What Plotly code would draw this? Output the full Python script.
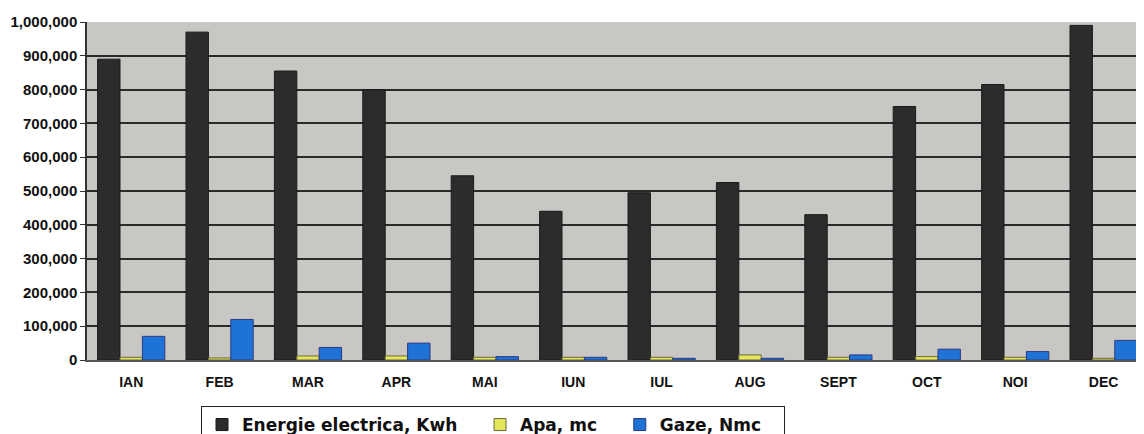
import plotly.graph_objects as go

months = ["IAN", "FEB", "MAR", "APR", "MAI", "IUN", "IUL", "AUG", "SEPT", "OCT", "NOI", "DEC"]
energie = [890000, 970000, 855000, 800000, 545000, 440000, 495000, 525000, 430000, 750000, 815000, 990000]
apa = [8000, 6000, 12000, 12000, 8000, 8000, 8000, 15000, 8000, 10000, 8000, 5000]
gaze = [70000, 120000, 37000, 50000, 10000, 8000, 5000, 5000, 15000, 32000, 25000, 58000]

tick_vals = [0, 100000, 200000, 300000, 400000, 500000, 600000, 700000, 800000, 900000, 1000000]
tick_text = ["0", "100,000", "200,000", "300,000", "400,000", "500,000",
             "600,000", "700,000", "800,000", "900,000", "1,000,000"]

PAD = "\u00a0" * 3
names = ["Energie electrica, Kwh" + PAD, "Apa, mc" + PAD, "Gaze, Nmc" + PAD]

fig = go.Figure()
fig.add_trace(go.Bar(name=names[0], x=months, y=energie,
                     marker=dict(color="#2c2c2c", line=dict(color="#1a1a1a", width=1))))
fig.add_trace(go.Bar(name=names[1], x=months, y=apa,
                     marker=dict(color="#e6e65c", line=dict(color="#6b6b3a", width=1))))
fig.add_trace(go.Bar(name=names[2], x=months, y=gaze,
                     marker=dict(color="#1f72d6", line=dict(color="#2a3a80", width=1))))

# page body has an 8px margin: figure origin sits at screen (8, 8)
OFF = 8
W, H = 1144 - OFF, 434 - OFF
ml, mr, mt = 87 - OFF, 0, 22 - OFF
mb = H - (360 - OFF)
pw = W - ml - mr
ph = H - mt - mb

FONT = "Liberation Sans, Arial, sans-serif"
LFONT = "DejaVu Sans, Liberation Sans, Arial, sans-serif"

fig.update_layout(
    width=W, height=H,
    margin=dict(l=ml, r=mr, t=mt, b=mb, pad=0, autoexpand=False),
    paper_bgcolor="white",
    plot_bgcolor="#c9c7c4",
    barmode="group",
    bargap=0.24,
    bargroupgap=0,
    font=dict(family=FONT, color="#111111"),
    showlegend=True,
    legend=dict(
        orientation="h",
        x=((201 - OFF) - ml) / pw, xanchor="left",
        y=-((406 - OFF) - (mt + ph)) / ph, yanchor="top",
        bordercolor="#222222", borderwidth=1,
        bgcolor="white",
        font=dict(size=17, family=LFONT, color="#111111", weight="bold"),
        traceorder="normal",
    ),
    xaxis=dict(
        range=[-0.5, -0.5 + pw / 88.4],
        showgrid=False,
        showline=True, linecolor="#555555", linewidth=2,
        ticks="",
        ticklabelstandoff=8,
        tickfont=dict(size=14, family=FONT, weight="bold"),
        zeroline=False,
    ),
    yaxis=dict(
        range=[0, 1000000],
        tickvals=tick_vals, ticktext=tick_text,
        showgrid=True, gridcolor="#2a2a2a", gridwidth=1.5,
        showline=True, linecolor="#333333", linewidth=1.5,
        ticks="outside", ticklen=5, tickcolor="#333333",
        tickfont=dict(size=15, family=FONT, weight="bold"),
        zeroline=False,
    ),
)

fig.write_html("out.html")
